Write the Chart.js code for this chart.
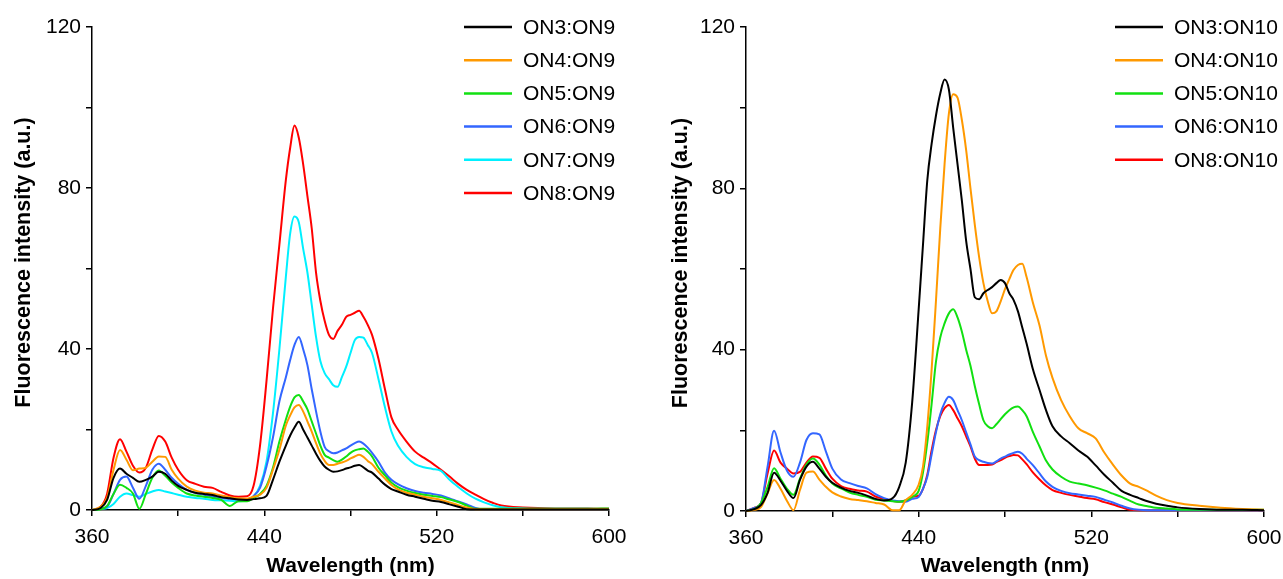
<!DOCTYPE html>
<html>
<head>
<meta charset="utf-8">
<script src="https://cdn.jsdelivr.net/npm/chart.js@4.4.1/dist/chart.umd.min.js"></script>
<style>
  body { margin: 0; background: #fff; }
  #wrap { position: relative; width: 1283px; height: 579px; }
  #c1 { position: absolute; left: 0; top: 0; }
  #c2 { position: absolute; left: 641px; top: 0; }
</style>
</head>
<body>
<div id="wrap">
  <canvas id="c1" width="641" height="579"></canvas>
  <canvas id="c2" width="642" height="579"></canvas>
</div>
<script>
// Wavelength grids (nm)
const wlLeft = [360, 364, 367, 370, 373, 376, 379, 382, 385, 388, 391, 394, 397, 400, 404, 408, 412, 416, 420, 424,
  428, 432, 435, 438, 441, 444, 447, 450, 452, 454, 456, 458, 460, 462, 464, 466, 468, 470, 472, 474,
  476, 478, 480, 482, 484, 486, 488, 490, 493, 496, 499, 502, 506, 510, 514, 518, 522, 526, 530, 534,
  538, 542, 546, 550, 560, 575, 590, 600];

const wlRight = [360, 364, 367, 370, 373, 376, 379, 382, 385, 388, 391, 394, 397, 400, 404, 408, 412, 416, 420, 424,
  428, 431, 434, 437, 440, 442, 444, 446, 448, 450, 452, 454, 456, 458, 460, 462, 464, 466, 468, 470,
  472, 474, 476, 478, 480, 482, 484, 486, 488, 490, 493, 496, 499, 502, 506, 510, 514, 518, 522, 526,
  530, 534, 538, 542, 546, 550, 555, 560, 570, 580, 590, 600];

// Left panel: ONx:ON9
const on3on9 = [0, 0.5, 2.5, 8, 10.3, 9, 8, 7, 7.5, 8.3, 9.5, 9, 7.3, 6, 5, 4.3, 4, 3.7, 3.2, 2.9,
  2.6, 2.5, 2.7, 2.9, 3.5, 7.5, 12, 16, 18.5, 20.5, 21.9, 20, 18, 16, 14, 12.2, 10.8, 10, 9.5, 9.6,
  9.9, 10.3, 10.6, 11, 11.2, 10.6, 9.8, 9.3, 7.8, 6.3, 5.2, 4.6, 3.8, 3.3, 2.8, 2.3, 2, 1.4, 0.8, 0.2,
  0.1, 0.1, 0.1, 0.1, 0.1, 0.1, 0.1, 0.1];
const on4on9 = [0, 0.8, 3, 10, 14.9, 12.5, 9.9, 10.3, 10.5, 12, 13.3, 13.2, 10, 7.8, 5.8, 4.8, 4.3, 4.1, 3.6, 3.2,
  2.9, 2.8, 3.3, 3.8, 5.5, 10, 15, 21, 23.5, 25.5, 26.1, 24.5, 22, 19.5, 16.6, 14, 12.2, 11.2, 11.2, 11.5,
  11.8, 12.2, 12.8, 13.3, 13.7, 13.2, 12.2, 11.4, 9.5, 7.8, 6.2, 5.1, 4.3, 3.8, 3.3, 2.9, 2.5, 1.9, 1.2, 0.6,
  0.2, 0.2, 0.2, 0.2, 0.2, 0.2, 0.2, 0.2];
const on5on9 = [0, 0.2, 1, 4, 6.3, 5.5, 4.1, 0.3, 4, 8, 9.8, 8.5, 6.8, 5.5, 4.1, 3.6, 3.3, 3, 2.5, 1,
  2.2, 2.2, 3, 4, 6, 10.5, 17, 22.5, 25.7, 28, 28.6, 27, 25, 22, 19, 16, 13.7, 13, 12.4, 12,
  12.5, 13.3, 14.2, 14.8, 15.1, 15.3, 14.5, 13.3, 10.5, 8.6, 6.8, 5.7, 4.8, 4.2, 3.8, 3.5, 3.2, 2.6, 2, 1.1,
  0.3, 0.3, 0.3, 0.3, 0.3, 0.3, 0.3, 0.4];
const on6on9 = [0, 0.3, 0.8, 4, 7.5, 8.3, 5.5, 2.8, 6, 10, 11.5, 10, 8, 6.5, 5, 4.2, 3.8, 3.3, 3, 2.8,
  2.6, 2.5, 3.5, 5.5, 10.8, 18, 27, 33, 37.3, 41, 43, 40, 36, 30, 24.5, 19.5, 15.7, 14.6, 14.1, 14.3,
  14.8, 15.3, 16, 16.6, 17, 16.5, 15.5, 14.2, 12, 9.3, 7.5, 6.4, 5.4, 4.7, 4.3, 4, 3.6, 2.9, 2.1, 1.4,
  0.5, 0.2, 0.2, 0.2, 0.2, 0.2, 0.2, 0.2];
const on7on9 = [0, 0.3, 0.5, 1.5, 3.3, 4.1, 3.7, 3.3, 4, 4.6, 5, 4.6, 4.2, 3.8, 3.3, 3, 2.8, 2.5, 2.4, 2.3,
  2.2, 2.3, 3.3, 6, 12, 24, 40, 58, 68.7, 72.9, 71.5, 65, 59, 51, 43, 37, 34, 32.5, 31, 30.6,
  33, 35.6, 39, 42.2, 43, 42.8, 41, 39, 32.5, 25.5, 19.5, 16, 13.2, 11.4, 10.6, 10.2, 9.7, 7.5, 5.7, 4.1,
  2.8, 1.9, 1.2, 0.7, 0.4, 0.3, 0.3, 0.2];
const on8on9 = [0, 0.8, 4, 13, 17.6, 14.5, 11, 9.3, 10.5, 15, 18.4, 17, 13, 10, 7.4, 6.5, 5.8, 5.5, 4.5, 3.6,
  3.3, 3.4, 6, 16, 32, 50, 66, 82, 90, 95.5, 92.5, 86, 78, 70, 59, 52, 47, 43.5, 42.5, 44.5,
  46, 48, 48.5, 49, 49.5, 48, 46, 43.5, 37.5, 30, 23, 20, 17, 14.5, 13, 11.6, 10, 8.3, 6.5, 5,
  3.8, 2.7, 1.8, 1.1, 0.6, 0.4, 0.4, 0.3];

// Right panel: ONx:ON10
const on3on10 = [0, 0.5, 1.5, 4.5, 9.5, 7.5, 5, 3.2, 7.7, 11, 12.2, 10.5, 8.5, 7, 5.8, 5, 4.5, 3.8, 3, 2.6,
  3.2, 6, 12, 27, 50, 66, 82, 91, 98, 103.5, 107, 104.5, 95, 86, 77, 67, 60, 53, 52.5, 54,
  54.8, 55.5, 56.5, 57.3, 56.5, 54, 52.3, 49.5, 45.5, 41.5, 35, 30, 25, 21, 18.5, 16.8, 15, 13.5, 11.3, 9,
  7, 5, 4, 3.2, 2.4, 1.8, 1.3, 0.9, 0.5, 0.3, 0.3, 0.2];
const on4on10 = [0, 0.3, 1, 4.4, 7.7, 5.5, 2.5, 0.2, 5.2, 9.5, 9.8, 7.8, 6, 4.6, 3.6, 3, 2.7, 2.4, 2, 1.6,
  0.2, 0.2, 2.7, 4, 6.5, 11, 21, 35, 52, 70, 86, 98.5, 103.3, 102.5, 97, 89.5, 80, 71, 63, 56.5,
  52, 49, 49.5, 52, 55, 57.5, 59.8, 61, 61.3, 58, 51.5, 46, 38.5, 33, 27.5, 23.5, 20.5, 19.3, 18, 14.5,
  11.5, 8.8, 6.8, 6, 5, 3.8, 2.7, 2, 1.3, 0.8, 0.5, 0.3];
const on5on10 = [0, 0.5, 2, 6, 10.6, 8, 5.5, 4, 8, 11.5, 13, 11.5, 8.8, 6.8, 5.6, 4.6, 4, 3.5, 2.8, 2.6,
  2.4, 2.3, 2.6, 3.5, 5, 9.5, 17, 26.5, 37, 43, 46.5, 49, 50, 48, 44.5, 40, 36, 31, 26.5, 22.5,
  21, 20.5, 21.5, 22.8, 24, 25, 25.7, 25.9, 25, 23.5, 19.5, 16, 12.5, 10.3, 8.5, 7.3, 6.8, 6.4, 5.8, 5.1,
  4.3, 3.5, 2.5, 1.6, 1.2, 0.8, 0.6, 0.4, 0.3, 0.3, 0.3, 0.3];
const on6on10 = [0, 0.8, 2, 11, 19.9, 14.5, 10, 8.5, 12, 17.6, 19.3, 19, 14.8, 10.5, 7.8, 6.9, 6.2, 5.6, 4.2, 3.2,
  2.6, 2.4, 2.3, 3, 3.5, 5.5, 8.5, 14, 19.5, 24, 26.8, 28.3, 27.5, 25, 22.5, 19.5, 16.5, 13.5, 12.6, 12.2,
  11.9, 11.8, 12.3, 13, 13.5, 14, 14.4, 14.7, 14.2, 13, 11.3, 9.3, 7.3, 6, 5, 4.4, 4.1, 3.8, 3.5, 2.8,
  2.1, 1.3, 0.6, 0.3, 0.2, 0.2, 0.2, 0.2, 0.2, 0.2, 0.2, 0.2];
const on8on10 = [0, 0.8, 2, 9.3, 15, 12, 10.5, 9.3, 9.7, 12, 13.5, 13.2, 10.5, 8, 6.2, 5.5, 5.1, 4.8, 3.6, 3,
  2.5, 2.3, 2.6, 3.5, 3.8, 5.5, 9, 15, 20, 23.5, 25.5, 26.3, 25, 23, 21, 18.5, 16, 13, 11.4, 11.4,
  11.4, 11.5, 12.1, 12.6, 13.2, 13.6, 13.9, 13.8, 12.8, 11.6, 9.5, 7.8, 6.3, 5.2, 4.5, 4, 3.6, 3.2, 2.9, 2.2,
  1.6, 0.9, 0.3, 0.2, 0.2, 0.2, 0.2, 0.2, 0.2, 0.2, 0.2, 0.2];

const labelsLeft = ["ON3:ON9", "ON4:ON9", "ON5:ON9", "ON6:ON9", "ON7:ON9", "ON8:ON9"];
const labelsRight = ["ON3:ON10", "ON4:ON10", "ON5:ON10", "ON6:ON10", "ON8:ON10"];
const colorsLeft = ["#000000", "#FF9900", "#11E011", "#3366FF", "#00F0FF", "#FF0000"];
const colorsRight = ["#000000", "#FF9900", "#11E011", "#3366FF", "#FF0000"];

const FONT = "'Liberation Sans', Arial, Helvetica, sans-serif";
Chart.defaults.font.family = FONT;
Chart.defaults.font.size = 21;
Chart.defaults.color = "#000";

// legend drawn inside the plot, top right
const insideLegend = {
  id: "insideLegend",
  afterDatasetsDraw(chart, args, opts) {
    const ctx = chart.ctx;
    ctx.save();
    ctx.font = "21px " + FONT;
    ctx.textBaseline = "middle";
    chart.data.datasets.forEach((ds, i) => {
      const y = opts.y + i * opts.step;
      ctx.strokeStyle = ds.borderColor;
      ctx.lineWidth = 2.5;
      ctx.beginPath();
      ctx.moveTo(opts.x, y);
      ctx.lineTo(opts.x + 48, y);
      ctx.stroke();
      ctx.fillStyle = "#000";
      ctx.fillText(ds.label, opts.x + 59, y + 1);
    });
    ctx.restore();
  }
};

function makeChart(id, wl, series, labels, colors, cfg) {
  const datasets = series.map((vals, i) => ({
    label: labels[i],
    data: vals.map((v, j) => ({ x: wl[j], y: v })),
    borderColor: colors[i],
    borderWidth: 2,
    pointRadius: 0,
    cubicInterpolationMode: "monotone",
    clip: false
  }));

  const axisGrid = { drawOnChartArea: false, drawTicks: true, tickLength: 6, color: "#000", lineWidth: 1.5 };
  const axisBorder = { color: "#000", width: 1.5 };

  return new Chart(document.getElementById(id), {
    type: "line",
    data: { datasets },
    plugins: [insideLegend],
    options: {
      responsive: false,
      animation: false,
      events: [],
      layout: { padding: cfg.padding },
      plugins: {
        legend: { display: false },
        tooltip: { enabled: false },
        insideLegend: cfg.legend
      },
      scales: {
        x: {
          type: "linear",
          min: 360, max: 600,
          grid: axisGrid, border: axisBorder,
          // minor ticks every 40 nm, labels every 80 nm from 360
          ticks: { stepSize: 40, padding: 9, maxRotation: 0, callback: v => ((v - 360) % 80 === 0 ? v : "") },
          title: { display: true, text: "Wavelength (nm)", font: { weight: "bold", size: 21 }, padding: 0 },
          afterFit: s => {
            s.height = cfg.xHeight;
            // edge labels may overhang; layout padding already leaves room
            s.paddingLeft = 0;
            s.paddingRight = 0;
          }
        },
        y: {
          min: 0, max: 120,
          grid: axisGrid, border: axisBorder,
          ticks: { stepSize: 20, padding: 5, callback: v => (v % 40 === 0 ? v : "") },
          title: { display: true, text: "  Fluorescence intensity (a.u.)", font: { weight: "bold", size: 21.5 }, padding: 0 },
          afterFit: s => { s.width = cfg.yWidth; }
        }
      }
    }
  });
}

makeChart("c1", wlLeft, [on3on9, on4on9, on5on9, on6on9, on7on9, on8on9], labelsLeft, colorsLeft, {
  padding: { left: 11, right: 32, top: 27, bottom: 0 },
  yWidth: 81, xHeight: 69,
  legend: { x: 464, y: 27, step: 33.2 }
});

makeChart("c2", wlRight, [on3on10, on4on10, on5on10, on6on10, on8on10], labelsRight, colorsRight, {
  padding: { left: 27, right: 19, top: 27, bottom: 0 },
  yWidth: 78, xHeight: 68,
  legend: { x: 474, y: 27, step: 33.2 }
});
</script>
</body>
</html>
